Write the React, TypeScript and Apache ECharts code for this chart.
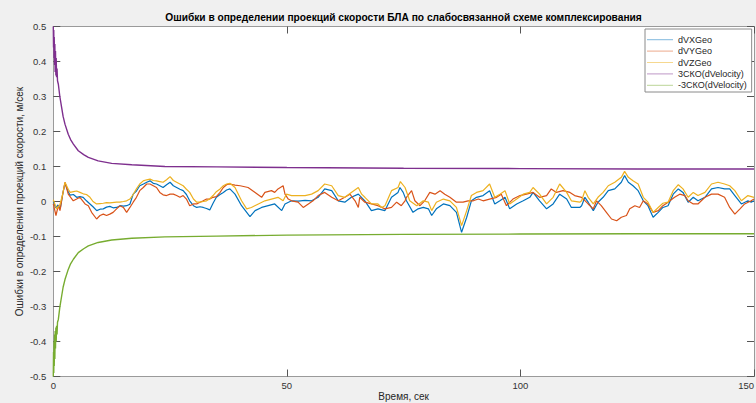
import React, { useEffect, useRef } from 'react';
import * as echarts from 'echarts';

// Velocity-projection errors of the UAV in the loosely coupled integration scheme.
// Each series is a list of [time, error] pairs (s, m/s).

const chartTitle = 'Ошибки в определении проекций скорости БЛА по слабосвязанной схеме комплексирования';
const xAxisTitle = 'Время, сек';
const yAxisTitle = 'Ошибки в определении проекций скорости, м/сек';

const seriesNames = ['dVXGeo', 'dVYGeo', 'dVZGeo', '3СКО(dVelocity)', '-3СКО(dVelocity)'];

const xTickValues = [0, 50, 100, 150];
const yTickValues = [-0.5, -0.4, -0.3, -0.2, -0.1, 0, 0.1, 0.2, 0.3, 0.4, 0.5];

const dVXGeo: number[][] = [
  [0, 0.0], [0.5, -0.018], [1.0, -0.01], [1.5, -0.02], [2.0, 0.02], [2.5, 0.052], [3.2, 0.028], [3.6, 0.018],
  [4.3, 0.02], [5.0, 0.012], [5.7, 0.014], [6.4, 0.012], [7.1, 0.002], [7.85, -0.007], [8.5, -0.015], [9.3, -0.026],
  [10.0, -0.022], [10.7, -0.021], [11.4, -0.016], [12.1, -0.014], [12.8, -0.018], [13.55, -0.017], [14.3, -0.012],
  [15.0, -0.013], [15.7, -0.012], [16.4, -0.008], [17.1, 0.021], [17.8, 0.03], [18.5, 0.045], [19.3, 0.05],
  [20.0, 0.055], [20.7, 0.059], [21.4, 0.052], [22.1, 0.05], [22.8, 0.045], [23.5, 0.04], [24.25, 0.048],
  [25.0, 0.055], [25.7, 0.045], [26.4, 0.04], [27.1, 0.035], [27.8, 0.031], [28.5, 0.02], [29.2, 0.002],
  [30.0, -0.012], [30.7, -0.017], [31.4, -0.015], [32.1, -0.017], [32.8, -0.02], [33.5, -0.024], [34.2, -0.005],
  [34.9, 0.012], [35.7, 0.02], [36.4, 0.026], [37.1, 0.033], [37.8, 0.036], [38.9, 0.021], [40.3, -0.012],
  [42.1, -0.043], [43.2, -0.026], [44.6, -0.017], [46.0, -0.012], [47.4, -0.007], [48.9, -0.026], [49.6, -0.007],
  [51.0, 0.002], [52.4, 0.001], [53.9, 0.003], [55.3, 0.002], [56.7, 0.012], [58.1, 0.036], [59.6, 0.031],
  [61.0, 0.002], [62.4, -0.002], [63.8, 0.012], [65.3, 0.021], [66.7, 0.002], [68.1, -0.026], [69.5, -0.021],
  [71.0, -0.026], [72.4, 0.012], [73.8, 0.026], [74.2, 0.04], [74.9, 0.026], [75.6, 0.002], [77.0, -0.031],
  [78.1, -0.021], [79.2, -0.017], [80.3, -0.021], [81.0, -0.04], [82.0, -0.021], [83.5, -0.007], [84.9, -0.012],
  [86.3, -0.031], [87.4, -0.088], [88.5, -0.045], [89.5, 0.002], [90.6, 0.012], [92.0, 0.017], [93.4, 0.031],
  [94.5, -0.007], [95.6, 0.002], [96.7, 0.012], [97.7, -0.021], [99.2, -0.007], [100.6, 0.002], [102.0, 0.012],
  [102.7, 0.026], [104.1, 0.002], [105.6, -0.021], [107.0, -0.007], [108.4, 0.021], [109.9, 0.007], [110.9, -0.017],
  [112.7, -0.017], [113.1, -0.012], [113.8, 0.012], [114.5, -0.002], [115.6, -0.026], [116.6, -0.002], [117.7, 0.012],
  [118.8, 0.031], [120.2, 0.036], [121.6, 0.055], [122.3, 0.074], [123.1, 0.055], [124.1, 0.045], [125.2, 0.031],
  [126.3, 0.002], [127.3, -0.012], [128.4, -0.045], [129.5, -0.031], [130.5, -0.017], [131.6, -0.012], [132.7, 0.021],
  [133.8, 0.036], [134.8, 0.026], [135.9, -0.002], [137.0, 0.012], [138.0, 0.002], [139.5, 0.012], [140.9, 0.036],
  [142.3, 0.04], [143.7, 0.036], [144.8, 0.036], [145.9, 0.017], [147.3, -0.007], [148.7, 0.002], [149.4, -0.002],
  [150, 0.002],
];

const dVYGeo: number[][] = [
  [0, -0.007], [0.57, -0.04], [1.07, -0.012], [1.43, -0.026], [2.0, 0.02], [2.5, 0.055], [3.2, 0.021], [4.28, 0.002],
  [5.0, 0.007], [5.7, 0.012], [6.8, -0.007], [7.5, -0.012], [8.2, -0.031], [9.27, -0.05], [10.0, -0.04], [10.7, -0.036],
  [11.4, -0.04], [12.1, -0.036], [12.8, -0.031], [13.55, -0.021], [14.27, -0.012], [15.0, -0.017], [15.7, -0.031],
  [16.4, -0.017], [17.1, -0.002], [17.8, 0.012], [18.5, 0.031], [19.26, 0.04], [20.0, 0.05], [20.7, 0.05],
  [21.4, 0.045], [22.1, 0.04], [22.8, 0.026], [23.5, 0.019], [24.25, 0.017], [25.0, 0.021], [25.7, 0.021],
  [26.4, 0.017], [27.1, 0.012], [27.8, 0.017], [28.5, 0.007], [29.2, -0.012], [30.0, -0.007], [30.7, -0.007],
  [31.4, -0.002], [32.1, 0.002], [32.8, 0.007], [33.5, 0.007], [34.2, 0.012], [34.9, 0.014], [35.7, 0.026],
  [36.4, 0.04], [37.1, 0.048], [37.8, 0.05], [38.9, 0.047], [40.0, 0.045], [41.7, 0.04], [43.2, 0.026],
  [44.6, 0.012], [45.3, 0.026], [46.7, 0.031], [47.4, 0.026], [48.1, 0.036], [49.2, 0.045], [49.6, 0.021],
  [50.3, 0.007], [51.0, 0.002], [52.4, -0.002], [53.5, -0.017], [54.6, -0.007], [55.6, 0.002], [56.7, 0.017],
  [58.1, 0.026], [59.6, 0.012], [61.0, 0.002], [62.4, 0.012], [63.5, 0.021], [64.6, 0.002], [65.3, -0.017],
  [65.6, 0.012], [66.7, -0.002], [68.1, -0.007], [69.5, -0.012], [71.0, -0.021], [72.4, -0.017], [73.5, -0.002],
  [74.5, -0.012], [75.3, 0.002], [75.6, 0.012], [76.7, 0.031], [77.4, 0.002], [78.5, -0.012], [79.5, 0.002],
  [80.6, 0.026], [81.7, 0.021], [82.8, 0.031], [83.8, 0.021], [84.9, 0.012], [86.3, -0.002], [87.7, -0.002],
  [88.8, 0.002], [89.9, 0.002], [91.0, 0.007], [92.0, 0.002], [93.4, 0.007], [94.9, 0.012], [95.9, 0.021],
  [97.0, -0.012], [98.4, 0.007], [99.9, 0.017], [101.3, 0.021], [102.7, 0.026], [104.1, 0.012], [105.6, 0.017],
  [106.6, 0.036], [107.7, 0.026], [109.1, 0.031], [110.6, 0.026], [111.6, 0.017], [113.1, 0.012], [114.5, -0.007],
  [115.6, -0.021], [116.3, 0.002], [117.3, -0.012], [118.4, -0.031], [119.5, -0.05], [120.6, -0.055], [121.6, -0.045],
  [122.7, -0.04], [123.4, -0.021], [124.5, -0.012], [125.5, -0.017], [126.3, 0.002], [127.3, -0.007], [128.4, -0.031],
  [129.5, -0.026], [130.5, -0.012], [131.6, -0.002], [133.0, 0.012], [134.1, 0.021], [135.2, 0.017], [135.9, 0.002],
  [137.0, -0.007], [138.0, -0.007], [139.5, 0.012], [140.9, 0.021], [142.3, 0.021], [143.7, 0.012], [144.8, -0.017],
  [145.9, -0.036], [147.0, -0.021], [148.0, -0.007], [149.4, 0.002], [150, 0.007],
];

const dVZGeo: number[][] = [
  [0, 0.005], [0.7, -0.021], [1.4, -0.01], [2.0, 0.02], [2.5, 0.055], [3.2, 0.035], [3.6, 0.026], [4.3, 0.028],
  [5.0, 0.03], [5.7, 0.026], [6.4, 0.022], [7.1, 0.02], [7.85, 0.012], [8.5, 0.0], [9.27, -0.007], [10.0, -0.006],
  [10.7, -0.005], [11.4, -0.003], [12.1, -0.004], [13.55, -0.002], [14.27, -0.002], [15.0, 0.0], [15.7, 0.002],
  [16.4, 0.007], [17.1, 0.02], [17.8, 0.036], [18.5, 0.05], [19.26, 0.059], [20.0, 0.062], [20.7, 0.064],
  [21.4, 0.06], [22.1, 0.059], [22.8, 0.057], [23.5, 0.055], [24.25, 0.062], [25.0, 0.071], [25.7, 0.06],
  [26.4, 0.055], [27.1, 0.05], [27.8, 0.045], [28.5, 0.035], [29.2, 0.026], [30.0, 0.007], [30.7, -0.002],
  [31.4, -0.002], [32.1, 0.0], [32.8, 0.002], [33.5, 0.008], [34.2, 0.017], [34.9, 0.028], [35.7, 0.036],
  [36.4, 0.045], [37.1, 0.05], [37.8, 0.052], [38.9, 0.04], [40.3, 0.002], [41.4, -0.021], [42.4, -0.017],
  [43.9, -0.007], [45.3, 0.002], [46.7, 0.007], [48.1, 0.012], [49.2, 0.002], [49.9, 0.021], [51.0, 0.017],
  [52.4, 0.017], [53.9, 0.017], [55.3, 0.021], [56.7, 0.031], [58.1, 0.05], [59.6, 0.045], [61.0, 0.017],
  [62.4, 0.012], [63.8, 0.026], [65.3, 0.04], [66.0, 0.021], [66.7, 0.012], [68.1, -0.007], [69.5, -0.007],
  [70.3, -0.017], [71.0, -0.012], [72.4, 0.031], [73.8, 0.04], [74.3, 0.057], [75.3, 0.04], [76.3, 0.002],
  [77.8, -0.012], [79.2, 0.002], [80.3, -0.002], [81.0, -0.026], [82.0, -0.002], [83.5, 0.007], [84.9, 0.002],
  [86.3, -0.017], [87.4, -0.069], [88.5, -0.026], [89.5, 0.017], [90.6, 0.026], [92.0, 0.031], [93.4, 0.05],
  [94.5, 0.012], [95.6, 0.021], [96.7, 0.031], [97.7, -0.007], [99.2, 0.007], [100.6, 0.021], [102.0, 0.026],
  [102.7, 0.04], [104.1, 0.021], [105.6, -0.007], [107.0, 0.012], [108.4, 0.05], [109.9, 0.026], [110.9, 0.002],
  [112.7, -0.002], [113.1, 0.002], [113.8, 0.031], [114.5, 0.012], [115.6, -0.007], [116.6, 0.012], [117.7, 0.026],
  [118.8, 0.045], [120.2, 0.055], [121.6, 0.069], [122.3, 0.086], [123.1, 0.069], [124.1, 0.059], [125.2, 0.05],
  [126.3, 0.012], [127.3, -0.002], [128.4, -0.031], [129.5, -0.017], [130.5, -0.005], [131.6, -0.002], [132.7, 0.031],
  [133.8, 0.048], [134.8, 0.036], [135.9, 0.012], [137.0, 0.026], [138.0, 0.017], [139.5, 0.026], [140.9, 0.05],
  [142.3, 0.055], [143.7, 0.05], [144.8, 0.045], [145.9, 0.031], [147.3, 0.002], [148.7, 0.017], [150, 0.012],
];

// 3-sigma bounds of the velocity error estimate
const sigma3Upper: number[][] = [
  [0, 0.5], [0.05, 0.44], [0.1, 0.49], [0.15, 0.41], [0.2, 0.47], [0.27, 0.39], [0.33, 0.45], [0.4, 0.37],
  [0.47, 0.43], [0.55, 0.36], [0.62, 0.41], [0.7, 0.355], [0.8, 0.38], [0.9, 0.345], [1.08, 0.335], [1.4, 0.3],
  [1.79, 0.268], [2.1, 0.243], [2.5, 0.221], [3.2, 0.192], [3.7, 0.177], [4.3, 0.164], [5.35, 0.145], [6.5, 0.134],
  [7.5, 0.126], [9.6, 0.116], [12.5, 0.109], [16.8, 0.105], [23.9, 0.1], [35, 0.099], [50, 0.097], [75, 0.095],
  [100, 0.094], [125, 0.093], [150, 0.093],
];

const sigma3Lower: number[][] = [
  [0, -0.5], [0.05, -0.43], [0.1, -0.49], [0.15, -0.4], [0.2, -0.47], [0.27, -0.38], [0.33, -0.45], [0.4, -0.37],
  [0.47, -0.42], [0.55, -0.36], [0.62, -0.4], [0.7, -0.355], [0.8, -0.38], [0.9, -0.345], [1.08, -0.337], [1.4, -0.302],
  [1.79, -0.27], [2.1, -0.245], [2.5, -0.223], [3.2, -0.194], [3.7, -0.178], [4.3, -0.165], [5.35, -0.146],
  [6.5, -0.135], [7.5, -0.127], [9.6, -0.117], [12.5, -0.11], [16.8, -0.105], [23.9, -0.101], [35, -0.099],
  [50, -0.096], [75, -0.094], [100, -0.093], [125, -0.092], [150, -0.092],
];

const seriesData = [dVXGeo, dVYGeo, dVZGeo, sigma3Upper, sigma3Lower];
const seriesColors = ['#0072BD', '#D95319', '#EDB120', '#7E2F8E', '#77AC30'];
const seriesWidths = [1.2, 1.2, 1.2, 1.4, 1.4];

const FONT = '"Liberation Sans", Arial, Helvetica, sans-serif';

const tickLabel = (v: number) => {
  const r = Math.round(v * 10) / 10;
  return r === 0 ? '0' : String(r);
};

export default function App() {
  const ref = useRef<HTMLDivElement>(null);

  useEffect(() => {
    if (!ref.current) return;
    const chart = echarts.init(ref.current, undefined, { renderer: 'svg' });

    const axisLineStyle = { color: '#9a9a9a', width: 1 };
    const tickStyle = { color: '#555', width: 1 };

    const option = {
      animation: false,
      backgroundColor: '#f0f0f0',
      textStyle: { fontFamily: FONT },
      graphic: [
        {
          type: 'text',
          x: 403.5,
          y: 17.5,
          silent: true,
          style: {
            text: chartTitle,
            fill: '#000',
            font: `bold 10.2px ${FONT}`,
            align: 'center',
            verticalAlign: 'middle',
          },
        },
      ],
      grid: {
        left: 53.3,
        top: 26.5,
        width: 700.7,
        height: 350,
        show: true,
        backgroundColor: '#ffffff',
        borderWidth: 0,
        containLabel: false,
        outerBoundsMode: 'none',
      },
      legend: {
        data: seriesNames,
        orient: 'vertical',
        left: 645,
        top: 29,
        icon: 'rect',
        itemWidth: 26,
        itemHeight: 1,
        itemGap: 0,
        padding: [5, 5, 1, 2],
        backgroundColor: '#ffffff',
        borderColor: '#8a8a8a',
        borderWidth: 1,
        borderRadius: 0,
        selectedMode: false,
        itemStyle: { opacity: 0.5 },
        textStyle: { fontSize: 9, lineHeight: 11.4, color: '#262626', fontFamily: FONT },
      },
      xAxis: [
        {
          type: 'value',
          position: 'bottom',
          min: xTickValues[0],
          max: xTickValues[xTickValues.length - 1],
          interval: xTickValues[1] - xTickValues[0],
          name: xAxisTitle,
          nameLocation: 'middle',
          nameGap: 15,
          nameMoveOverlap: false,
          nameTextStyle: { fontSize: 10, color: '#262626', fontFamily: FONT },
          axisLine: { show: true, onZero: false, lineStyle: axisLineStyle },
          axisTick: { show: true, inside: true, length: 7, lineStyle: tickStyle },
          axisLabel: { margin: 4, fontSize: 9.5, color: '#333', fontFamily: FONT, alignMaxLabel: 'right' },
          splitLine: { show: false },
        },
        {
          type: 'value',
          position: 'top',
          min: xTickValues[0],
          max: xTickValues[xTickValues.length - 1],
          interval: xTickValues[1] - xTickValues[0],
          axisLine: { show: true, onZero: false, lineStyle: axisLineStyle },
          axisTick: { show: true, inside: true, length: 7, lineStyle: tickStyle },
          axisLabel: { show: false },
          splitLine: { show: false },
        },
      ],
      yAxis: [
        {
          type: 'value',
          position: 'left',
          min: yTickValues[0],
          max: yTickValues[yTickValues.length - 1],
          interval: 0.1,
          name: yAxisTitle,
          nameLocation: 'middle',
          nameGap: 29,
          nameRotate: 90,
          nameMoveOverlap: false,
          nameTextStyle: { fontSize: 10, color: '#262626', fontFamily: FONT },
          axisLine: { show: true, onZero: false, lineStyle: axisLineStyle },
          axisTick: { show: true, inside: true, length: 7, lineStyle: tickStyle },
          axisLabel: { margin: 7, fontSize: 9.5, color: '#333', fontFamily: FONT, formatter: tickLabel },
          splitLine: { show: false },
        },
        {
          type: 'value',
          position: 'right',
          min: yTickValues[0],
          max: yTickValues[yTickValues.length - 1],
          interval: 0.1,
          axisLine: { show: true, onZero: false, lineStyle: axisLineStyle },
          axisTick: { show: true, inside: true, length: 7, lineStyle: tickStyle },
          axisLabel: { show: false },
          splitLine: { show: false },
        },
      ],
      series: seriesNames.map((name, i) => ({
        name,
        type: 'line',
        xAxisIndex: 0,
        yAxisIndex: 0,
        data: seriesData[i],
        symbol: 'none',
        showSymbol: false,
        silent: true,
        clip: true,
        lineStyle: { color: seriesColors[i], width: seriesWidths[i] },
        itemStyle: { color: seriesColors[i] },
        emphasis: { disabled: true },
        z: 2 + i,
      })),
    };

    chart.setOption(option as any);
    return () => {
      chart.dispose();
    };
  }, []);

  return (
    <div
      ref={ref}
      style={{ position: 'fixed', left: 0, top: 0, width: 756, height: 403 }}
    />
  );
}
